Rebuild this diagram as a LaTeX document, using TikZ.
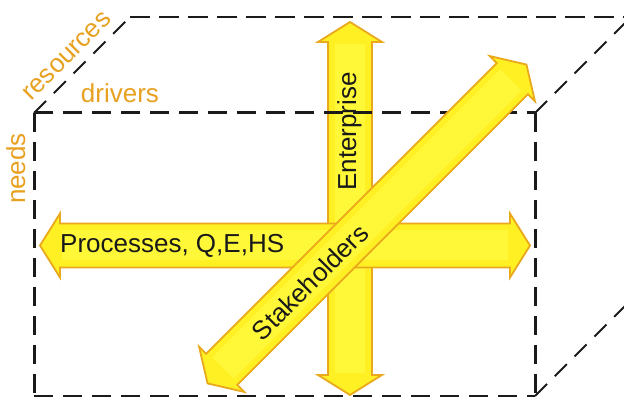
\documentclass[tikz,border=0pt]{standalone}
\usepackage{fontspec}
\setmainfont{Liberation Sans}
\definecolor{afill}{RGB}{255,240,36}
\definecolor{alight}{RGB}{255,248,56}
\definecolor{aedge}{RGB}{234,168,28}
\definecolor{lbl}{RGB}{232,160,32}
\definecolor{dline}{RGB}{26,26,26}
\tikzset{
  arrowbody/.style={fill=afill,draw=aedge,line width=1.8pt,line join=miter},
  frontline/.style={draw=dline,line width=3pt,dash pattern=on 19pt off 10pt},
  backline/.style={draw=dline,line width=2pt,dash pattern=on 17pt off 11pt},
  toplabel/.style={text=lbl,inner sep=0pt,font=\fontsize{26}{30}\selectfont},
  arrowlabel/.style={text=black!90,inner sep=0pt,font=\fontsize{26}{30}\selectfont}
}
\newcommand{\dblarrow}[4]{%
  \begin{scope}[shift={(#1,#2)},rotate=#3]
    \path[arrowbody] (-#4,0) -- ({-#4+20},32) -- ({-#4+20},22) -- ({#4-20},22)
      -- ({#4-20},32) -- (#4,0) -- ({#4-20},-32) -- ({#4-20},-22)
      -- ({-#4+20},-22) -- ({-#4+20},-32) -- cycle;
    \fill[alight] ({-#4+22},-15) rectangle ({#4-22},15);
  \end{scope}}
\begin{document}
\begin{tikzpicture}[x=1pt,y=1pt]
\useasboundingbox (0,0) rectangle (624,398);
\clip (0,0) rectangle (624,398);
% vertical arrow (Enterprise)
\dblarrow{350}{189.5}{90}{186.5}
\node[arrowlabel,rotate=90,anchor=base] (ent) at (356,266.5) {Enterprise};
% horizontal arrow (Processes)
\dblarrow{285}{152.5}{0}{245}
\node[arrowlabel,anchor=base west] (proc) at (60,145) {Processes, Q,E,HS};
% box
\coordinate (ftl) at (34,285);
\coordinate (ftr) at (535,285);
\coordinate (fbl) at (34,2);
\coordinate (fbr) at (535,2);
\coordinate (btl) at (130,381);
\coordinate (btr) at (631,381);
\coordinate (bbr) at (631,98);
\draw[frontline] (ftl) -- (ftr);
\draw[frontline] (ftl) -- (fbl);
\draw[frontline] (ftr) -- (fbr);
\draw[frontline,line width=2.4pt] (fbl) -- (fbr);
\draw[backline] (ftl) -- (btl);
\draw[backline] (ftr) -- (btr);
\draw[backline] (fbr) -- (bbr);
\draw[backline,dash pattern=on 20pt off 9pt] (btl) -- (btr);
% diagonal arrow (Stakeholders)
\dblarrow{367}{174}{45}{225.5}
\node[arrowlabel,rotate=45,anchor=center] (stk) at (310,116) {Stakeholders};
% labels
\node[toplabel,anchor=base] (drv) at (120,295) {drivers};
\node[toplabel,rotate=90,anchor=base] (nds) at (25,229.5) {needs};
\node[toplabel,rotate=45,anchor=base] (res) at (72,337) {resources};
\end{tikzpicture}
\end{document}
